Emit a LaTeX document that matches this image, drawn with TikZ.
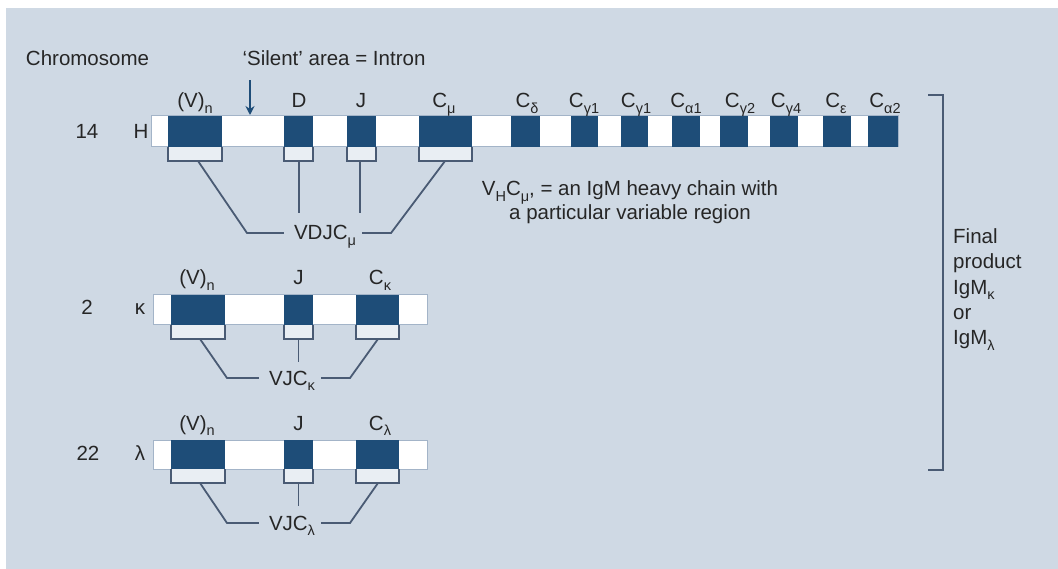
\documentclass[tikz,border=0pt]{standalone}
\usepackage{fontspec}
\setmainfont{Liberation Sans}
\usetikzlibrary{arrows.meta}
\definecolor{panel}{HTML}{CFD9E4}
\definecolor{exon}{HTML}{1E4D78}
\definecolor{barrim}{HTML}{A3B4C8}
\definecolor{wirecol}{HTML}{4A5B74}
\definecolor{ink}{HTML}{262626}
\newcommand\lo[1]{\raisebox{-0.28em}{\fontsize{14.5}{14.5}\selectfont #1}}
\tikzset{
  gene/.style={fill=exon},
  chrom/.style={fill=white,draw=barrim,line width=1pt},
  brk/.style={draw=wirecol,line width=1.8pt,fill=panel!45!white},
  wire/.style={draw=wirecol,line width=1.8pt},
  pointer/.style={draw=exon,line width=1.6pt,-{Stealth[length=9pt,width=9pt]}},
  lab/.style={font=\fontsize{20.5}{24}\selectfont,text=ink,inner sep=0pt,anchor=base}
}

\begin{document}
\begin{tikzpicture}[x=1pt,y=-1pt]
\useasboundingbox (0,0) rectangle (1058,569);
\fill [panel] (6,8) rectangle (1058,569);

\node[lab] (chromo) at (87.5,66) {Chromosome};
\node[lab] (silent) at (334,66) {‘Silent’ area = Intron};
\coordinate (intron) at (250,115);
\draw[pointer,shorten <=14pt] (silent.south -| intron) -- (intron);

\node[lab] (n14) at (87,139) {14};
\node[lab] (hH) at (141,139) {H};
\path[chrom] (151,116) rectangle (898,147);
\fill [gene] (168,116) rectangle (222,147);
\fill [gene] (284,116) rectangle (313,147);
\fill [gene] (347,116) rectangle (376,147);
\fill [gene] (419,116) rectangle (472,147);
\fill [gene] (511,116) rectangle (540,147);
\fill [gene] (571,116) rectangle (598,147);
\fill [gene] (621,116) rectangle (648,147);
\fill [gene] (672,116) rectangle (700,147);
\fill [gene] (720,116) rectangle (748,147);
\fill [gene] (770,116) rectangle (798,147);
\fill [gene] (823,116) rectangle (851,147);
\fill [gene] (868,116) rectangle (898,147);
\node[lab] (hV) at (195,108) {(V)\lo{n}};
\node[lab] (hD) at (299,108) {D};
\node[lab] (hJ) at (361,108) {J};
\node[lab] (hCmu) at (444,108) {C\lo{μ}};
\node[lab] (hCdelta) at (527,108) {C\lo{δ}};
\node[lab] (hCgA) at (584,108) {C\lo{γ1}};
\node[lab] (hCgB) at (636,108) {C\lo{γ1}};
\node[lab] (hCaA) at (686,108) {C\lo{α1}};
\node[lab] (hCgC) at (740,108) {C\lo{γ2}};
\node[lab] (hCgD) at (786,108) {C\lo{γ4}};
\node[lab] (hCeps) at (836,108) {C\lo{ε}};
\node[lab] (hCaB) at (885,108) {C\lo{α2}};
\draw[brk] (168,147) -- (168,161) -- (222,161) -- (222,147);
\draw[brk] (284,147) -- (284,161) -- (313,161) -- (313,147);
\draw[brk] (347,147) -- (347,161) -- (376,161) -- (376,147);
\draw[brk] (419,147) -- (419,161) -- (472,161) -- (472,147);
\node[lab] (vdjc) at (325,240) {VDJC\lo{μ}};
\coordinate (hVb) at (198,161);
\coordinate (hVk) at (247,233);
\coordinate (hCb) at (445,161);
\coordinate (hCk) at (391,233);
\coordinate (hDb) at (299,161);
\coordinate (hDe) at (299,213);
\coordinate (hJb) at (360,161);
\coordinate (hJe) at (360,213);
\draw[wire] (hVb) -- (hVk) -- ([xshift=-10pt]hVk -| vdjc.west);
\draw[wire] (hCb) -- (hCk) -- ([xshift=6pt]hCk -| vdjc.east);
\draw[wire] (hDb) -- (hDe);
\draw[wire] (hJb) -- (hJe);
\node[lab,align=center,anchor=north,font=\fontsize{20.5}{22}\selectfont] (note) at (630,180.5)
  {V\lo{H}C\lo{μ}, = an IgM heavy chain with\\a particular variable region};

\node[lab] (n2) at (87,315) {2};
\node[lab] (kk) at (140,315) {κ};
\path[chrom] (153,295) rectangle (427,325);
\fill [gene] (171,295) rectangle (225,325);
\fill [gene] (284,295) rectangle (313,325);
\fill [gene] (356,295) rectangle (399,325);
\node[lab] (kV) at (197,285) {(V)\lo{n}};
\node[lab] (kJ) at (298.5,285) {J};
\node[lab] (kC) at (380,285) {C\lo{κ}};
\draw[brk] (171,325) -- (171,339) -- (225,339) -- (225,325);
\draw[brk] (284,325) -- (284,339) -- (313,339) -- (313,325);
\draw[brk] (356,325) -- (356,339) -- (399,339) -- (399,325);
\node[lab] (vjck) at (292,385) {VJC\lo{κ}};
\coordinate (kVb) at (200,339);
\coordinate (kVk) at (227,378);
\coordinate (kCb) at (378,339);
\coordinate (kCk) at (350,378);
\coordinate (kJb) at (298.5,339);
\coordinate (kJe) at (298.5,362);
\draw[wire] (kVb) -- (kVk) -- ([xshift=-10pt]kVk -| vjck.west);
\draw[wire] (kCb) -- (kCk) -- ([xshift=6pt]kCk -| vjck.east);
\draw[wire] (kJb) -- (kJe);

\node[lab] (n22) at (88,460) {22};
\node[lab] (ll) at (140,460) {λ};
\path[chrom] (153,440) rectangle (427,469);
\fill [gene] (171,440) rectangle (225,469);
\fill [gene] (284,440) rectangle (313,469);
\fill [gene] (356,440) rectangle (399,469);
\node[lab] (lV) at (197,430) {(V)\lo{n}};
\node[lab] (lJ) at (298.5,430) {J};
\node[lab] (lC) at (380,430) {C\lo{λ}};
\draw[brk] (171,469) -- (171,483) -- (225,483) -- (225,469);
\draw[brk] (284,469) -- (284,483) -- (313,483) -- (313,469);
\draw[brk] (356,469) -- (356,483) -- (399,483) -- (399,469);
\node[lab] (vjcl) at (292,530) {VJC\lo{λ}};
\coordinate (lVb) at (200,483);
\coordinate (lVk) at (227,523);
\coordinate (lCb) at (378,483);
\coordinate (lCk) at (350,523);
\coordinate (lJb) at (298.5,483);
\coordinate (lJe) at (298.5,506);
\draw[wire] (lVb) -- (lVk) -- ([xshift=-10pt]lVk -| vjcl.west);
\draw[wire] (lCb) -- (lCk) -- ([xshift=6pt]lCk -| vjcl.east);
\draw[wire] (lJb) -- (lJe);

\draw[wire] (928,95) -- (943,95) -- (943,470) -- (928,470);
\node[lab,align=left,anchor=north west,font=\fontsize{20.5}{25.3}\selectfont] (final) at (953,228.5)
  {Final\\product\\IgM\lo{κ}\\or\\IgM\lo{λ}};
\end{tikzpicture}
\end{document}
